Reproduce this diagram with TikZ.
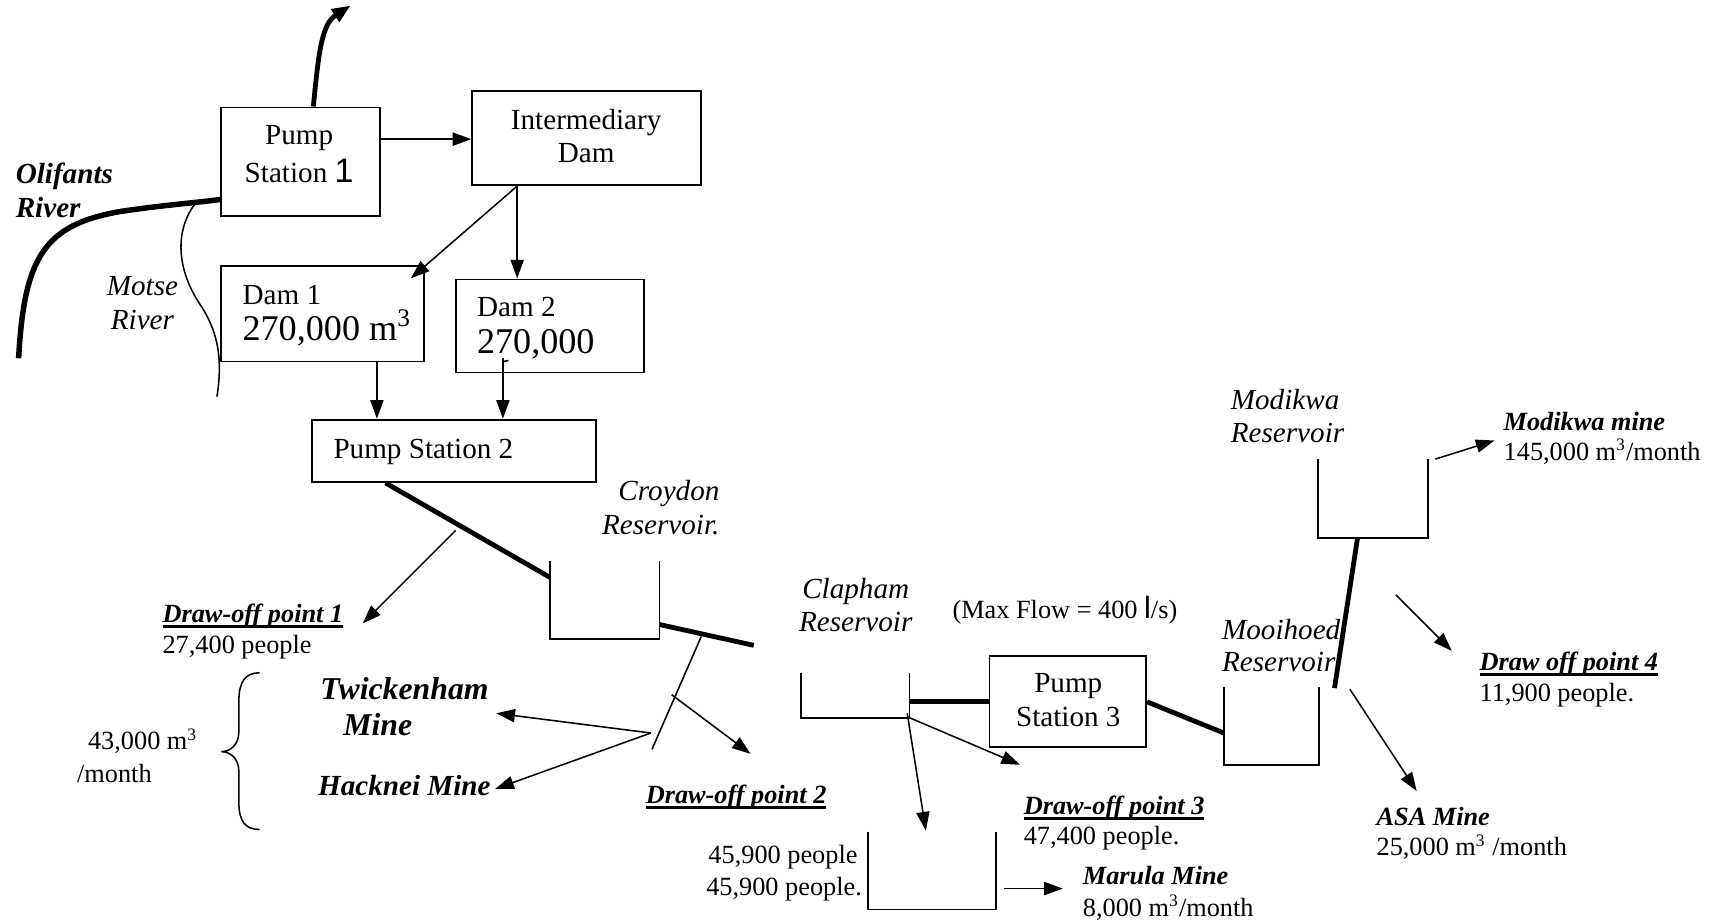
\documentclass[tikz,border=0pt]{standalone}
\usepackage{fontspec}
\setmainfont{Liberation Serif}
\newfontfamily\arialf{Liberation Sans}
\usetikzlibrary{arrows.meta}
\newcommand\thul[1]{\setbox0=\hbox{#1}\rlap{\vrule height -1.2pt depth 2.6pt width \wd0}\box0}
\begin{document}
\begin{tikzpicture}[x=0.5pt,y=-0.5pt,
  box/.style={draw, line width=0.8pt, inner sep=0pt},
  res/.style={line width=0.8pt},
  thinl/.style={line width=0.7pt},
  pipe/.style={line width=2.2pt},
  arr/.style={line width=0.7pt, -{Triangle[length=8.5pt,width=6pt]}},
  body/.style={inner sep=0pt, font=\fontsize{12}{14}\selectfont, text height=9.6pt, text depth=2.4pt},
  bib/.style={body, font=\fontsize{12}{14}\selectfont\bfseries\itshape},
  lab/.style={inner sep=0pt, font=\fontsize{13.3}{16}\selectfont, text height=10.6pt, text depth=2.7pt},
  ilab/.style={lab, font=\fontsize{13.3}{16}\selectfont\itshape},
  bilab/.style={lab, font=\fontsize{13.3}{16}\selectfont\bfseries\itshape},
  twk/.style={inner sep=0pt, font=\fontsize{14.5}{17}\selectfont\bfseries\itshape, text height=11.6pt, text depth=2.9pt},
  big/.style={inner sep=0pt, font=\fontsize{16.5}{19}\selectfont, text height=13pt, text depth=3.3pt}]
\useasboundingbox (0,0) rectangle (1568,843);

% boxes
\node[box, minimum width=72.5pt, minimum height=49.5pt] (ps1) at (274.5,147.5) {};
\node[box, minimum width=104.5pt, minimum height=43pt] (idam) at (535.5,126) {};
\node[box, minimum width=92.5pt, minimum height=43.5pt] (dam1) at (294.5,286.5) {};
\node[box, minimum width=86pt, minimum height=42.5pt] (dam2) at (502,297.5) {};
\node[box, minimum width=129.5pt, minimum height=28.5pt] (ps2) at (414.5,411.5) {};
\node[box, minimum width=71.5pt, minimum height=41.5pt] (ps3) at (974.5,640.5) {};

% box texts
\node[lab] (ps1a) at (273,124) {Pump};
\node[lab] (ps1b) at (273,159) {Station {\arialf\fontsize{15.5}{17}\selectfont 1}};
\node[lab] (ida) at (535,110) {Intermediary};
\node[lab] (idb) at (535,140) {Dam};
\node[lab, anchor=west] (d1a) at (221,270) {Dam 1};
\node[big, anchor=west] (d1b) at (221,301) {270,000 m\textsuperscript{3}};
\node[lab, anchor=west] (d2a) at (435,281) {Dam 2};
\node[big, anchor=west] (d2b) at (435,313) {270,000};
\node[lab, anchor=west] (ps2t) at (304,411) {Pump Station 2};
\node[lab] (ps3a) at (975,624) {Pump};
\node[lab] (ps3b) at (975,655) {Station 3};

% labels
\node[bilab, anchor=west] (ol1) at (14,160) {Olifants};
\node[bilab, anchor=west] (ol2) at (14,191) {River};
\node[ilab] (mo1) at (130,262) {Motse};
\node[ilab] (mo2) at (130,293) {River};
\node[ilab, anchor=east] (cr1) at (657,449) {Croydon};
\node[ilab, anchor=east] (cr2) at (657,480) {Reservoir.};
\node[bib, anchor=west] (do1) at (148,561) {\thul{Draw-off point 1}};
\node[body, anchor=west] (do1p) at (148,589) {27,400 people};
\node[body, anchor=west] (m43) at (80,677) {43,000 m\textsuperscript{3}};
\node[body, anchor=west] (m43b) at (70,707) {/month};
\node[twk, anchor=west] (tw1) at (292,630) {Twickenham};
\node[twk, anchor=west] (tw2) at (313,663) {Mine};
\node[bilab, anchor=west] (ha) at (290,718) {Hacknei Mine};
\node[bib, anchor=west] (do2) at (589,726) {\thul{Draw-off point 2}};
\node[ilab] (cl1) at (781,538) {Clapham};
\node[ilab] (cl2) at (781,568) {Reservoir};
\node[body, anchor=west] (mf) at (869,557) {(Max Flow = 400 {\arialf\fontsize{14}{16}\selectfont l}/s)};
\node[ilab, anchor=west] (mh1) at (1115,576) {Mooihoed};
\begin{scope}
\clip (1100,592) rectangle (1240,614);
\node[ilab, anchor=west] (mh2) at (1115,605) {Reservoir};
\end{scope}
\node[ilab, anchor=west] (mk1) at (1123,366) {Modikwa};
\node[ilab, anchor=west] (mk2) at (1123,396) {Reservoir};
\node[bib, anchor=west] (mkm) at (1372,386) {Modikwa mine};
\node[body, anchor=west] (mkq) at (1372,413) {145,000 m\textsuperscript{3}/month};
\node[bib, anchor=west] (do4) at (1350,605) {\thul{Draw off point 4}};
\node[body, anchor=west] (do4p) at (1350,633) {11,900 people.};
\node[bib, anchor=west] (asa) at (1256,746) {ASA Mine};
\node[body, anchor=west] (asaq) at (1256,774) {25,000 m\textsuperscript{3} /month};
\node[bib, anchor=west] (do3) at (934,736) {\thul{Draw-off point 3}};
\node[body, anchor=west] (do3p) at (934,764) {47,400 people.};
\node[body, anchor=east] (p459a) at (783,781) {45,900 people};
\node[body, anchor=east] (p459b) at (787,810) {45,900 people.};
\node[bib, anchor=west] (mar) at (988,800) {Marula Mine};
\node[body, anchor=west] (marq) at (988,829) {8,000 m\textsuperscript{3}/month};

% reservoirs (open-top)
\draw[res] (502,512) -- (502,583) -- (602,583) -- (602,512);
\draw[res] (731,614) -- (731,655) -- (830,655) -- (830,614);
\draw[res] (792,759) -- (792,830) -- (909,830) -- (909,759);
\draw[res] (1117,627) -- (1117,698) -- (1204,698) -- (1204,627);
\draw[res] (1203,419) -- (1203,491) -- (1303,491) -- (1303,419);

% coordinates
\coordinate (up) at (320,5);
\coordinate (olS) at (17,327);
\coordinate (mtS) at (178,186);
\coordinate (mtE) at (198,362);
\coordinate (d1tip) at (375,254);
\coordinate (crIn) at (502,527);
\coordinate (crOut) at (602,570);
\coordinate (pEnd) at (688,589);
\coordinate (brTop) at (640,581);
\coordinate (brBot) at (595,684);
\coordinate (apex) at (594,669);
\coordinate (twE) at (453,651);
\coordinate (haE) at (452,720);
\coordinate (do2s) at (613,634);
\coordinate (do2e) at (685,688);
\coordinate (do1s) at (416,484);
\coordinate (do1e) at (331,569);
\coordinate (clOut) at (830,640.5);
\coordinate (clB1) at (828,651);
\coordinate (mrE) at (845,758);
\coordinate (clB2) at (830,655);
\coordinate (do3e) at (931,698);
\coordinate (moIn) at (1117,669);
\coordinate (moOut) at (1218,628);
\coordinate (mkIn) at (1239,491);
\coordinate (mkS) at (1310,419);
\coordinate (mkE) at (1364,402);
\coordinate (d4s) at (1274,543);
\coordinate (d4e) at (1325,594);
\coordinate (asS) at (1232,629);
\coordinate (asE) at (1293,722);
\coordinate (muS) at (916,811);
\coordinate (muE) at (970,811);

% rivers
\draw[line width=2.5pt] (olS) .. controls (22,235) and (40,205) .. (110,193) .. controls (150,187) and (180,185) .. ([yshift=-17.25pt]ps1.west);
\draw[thinl] (mtS) .. controls (160,210) and (160,245) .. (184,280) .. controls (200,305) and (203,330) .. (mtE);
\draw[pipe, -{Triangle[length=8.5pt,width=6.5pt]}] ([xshift=5.75pt]ps1.north) .. controls (291,45) and (294,22) .. (up);

% top connectors
\draw[arr] ([yshift=10.25pt]ps1.east) -- ([yshift=-0.5pt]idam.west);
\draw[arr] ([xshift=-31.75pt]idam.south) -- (d1tip);
\draw[arr] ([xshift=-31.75pt]idam.south) -- ([xshift=-15pt]dam2.north);
\draw[arr] ([xshift=24.75pt]dam1.south) -- ([xshift=-35.25pt]ps2.north);
\draw[arr] ([xshift=-21.5pt,yshift=7pt]dam2.south) -- ([xshift=22.25pt]ps2.north);
\draw[thinl] (459,330) -- (464,329);

% pipeline
\draw[pipe] ([xshift=-31.25pt]ps2.south) -- (crIn);
\draw[pipe] (crOut) -- (pEnd);
\draw[arr] (do1s) -- (do1e);
\draw[thinl] (brTop) -- (brBot);
\draw[arr] (apex) -- (twE);
\draw[arr] (apex) -- (haE);
\draw[arr] (do2s) -- (do2e);
\draw[pipe] (clOut) -- (ps3.west);
\draw[arr] (clB1) -- (mrE);
\draw[arr] (clB2) -- (do3e);
\draw[arr] (muS) -- (muE);
\draw[pipe] (ps3.east) -- (moIn);
\draw[pipe] (moOut) -- (mkIn);
\draw[arr] (mkS) -- (mkE);
\draw[arr] (d4s) -- (d4e);
\draw[arr] (asS) -- (asE);

% brace
\draw[thinl] (237,614) .. controls (224,614) and (218,622) .. (218,640) -- (218,668) .. controls (218,680) and (210,686) .. (202,686) .. controls (210,686) and (218,692) .. (218,704) -- (218,732) .. controls (218,750) and (224,757) .. (237,757);
\end{tikzpicture}
\end{document}
